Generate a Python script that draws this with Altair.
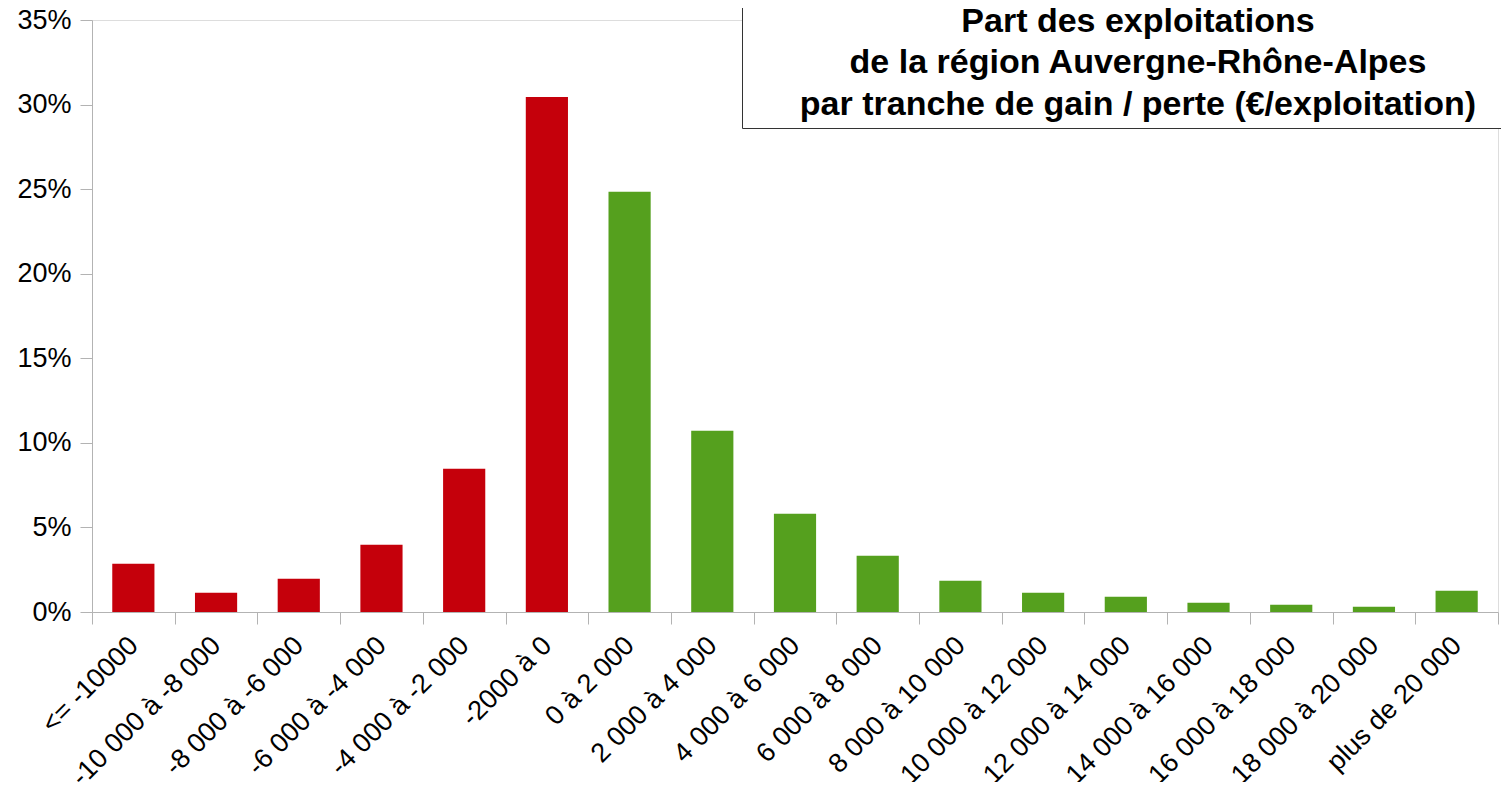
import altair as alt
import pandas as pd

categories = ["<= -10000", "-10 000 à -8 000", "-8 000 à -6 000", "-6 000 à -4 000",
              "-4 000 à -2 000", "-2000 à 0", "0 à 2 000", "2 000 à 4 000",
              "4 000 à 6 000", "6 000 à 8 000", "8 000 à 10 000", "10 000 à 12 000",
              "12 000 à 14 000", "14 000 à 16 000", "16 000 à 18 000", "18 000 à 20 000",
              "plus de 20 000"]
shares = [0.0285, 0.0114, 0.0197, 0.0398, 0.0847, 0.3045, 0.2484, 0.1072,
          0.0581, 0.0333, 0.0185, 0.0114, 0.0090, 0.0055, 0.0043, 0.0031, 0.0126]
signs = ["perte"] * 6 + ["gain"] * 11
title_lines = "Part des exploitations\nde la région Auvergne-Rhône-Alpes\n par tranche de gain / perte (€/exploitation)"

df = pd.DataFrame({"tranche": categories, "part": shares, "signe": signs})

FONT = "Liberation Sans"
W, H = 1406, 592

bars = alt.Chart(df).mark_bar(width=alt.RelativeBandSize(0.51)).encode(
    x=alt.X("tranche:N", sort=categories,
            scale=alt.Scale(paddingInner=0, paddingOuter=0),
            axis=alt.Axis(title=None, labelAngle=-45, labelAlign="right", labelBaseline="middle",
                          labelFont=FONT, labelFontSize=27, labelColor="#000000",
                          labelPadding=17, labelLimit=600, tickBand="extent", tickSize=12,
                          domainColor="#b3b3b3", tickColor="#b3b3b3", labelOverlap=False)),
    y=alt.Y("part:Q", scale=alt.Scale(domain=[0, 0.35], nice=False),
            axis=alt.Axis(title=None, format=".0%", values=[0, 0.05, 0.1, 0.15, 0.2, 0.25, 0.3, 0.35],
                          labelFont=FONT, labelFontSize=27, labelColor="#000000",
                          labelPadding=9, tickSize=12, grid=False,
                          domainColor="#b3b3b3", tickColor="#b3b3b3")),
    color=alt.Color("signe:N", scale=alt.Scale(domain=["perte", "gain"], range=["#C5000B", "#55A01E"]),
                    legend=None),
)

box_df = pd.DataFrame({"t": [title_lines]})
box = alt.Chart(box_df).mark_rect(fill="white", stroke="#333333", strokeWidth=1).encode(
    x=alt.value(650.5), x2=alt.value(1416), y=alt.value(-30), y2=alt.value(108.5)
)
title = alt.Chart(box_df).mark_text(
    font=FONT, fontSize=34, fontWeight="bold", color="#000000",
    align="center", baseline="alphabetic", lineBreak="\n", lineHeight=41.5
).encode(x=alt.value(1046), y=alt.value(11.5), text="t:N")

chart = alt.layer(bars, box, title).properties(
    width=W, height=H,
    autosize=alt.AutoSizeParams(type="none"),
    padding={"left": 84, "top": 12, "right": 3, "bottom": 170},
).configure_view(stroke=None).configure(background="white")

chart.save("out.html", embed_options={"renderer": "svg", "actions": False})
